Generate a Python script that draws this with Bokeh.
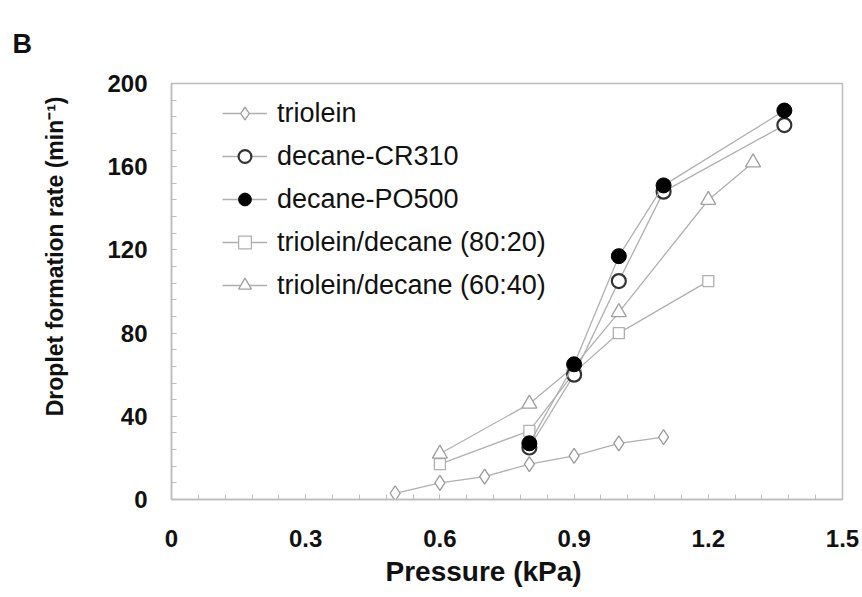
from bokeh.plotting import figure
from bokeh.models import Legend, LegendItem, Range1d, FixedTicker, Title
from bokeh.embed import file_html
from bokeh.resources import INLINE

# ---- data ----
triolein_x = [0.5, 0.6, 0.7, 0.8, 0.9, 1.0, 1.1]
triolein_y = [3, 8, 11, 17, 21, 27, 30]

cr310_x = [0.8, 0.9, 1.0, 1.1, 1.37]
cr310_y = [25, 60, 105, 148, 180]

po500_x = [0.8, 0.9, 1.0, 1.1, 1.37]
po500_y = [27, 65, 117, 151, 187]

mix8020_x = [0.6, 0.8, 0.9, 1.0, 1.2]
mix8020_y = [17, 33, 61, 80, 105]

mix6040_x = [0.6, 0.8, 0.9, 1.0, 1.2, 1.3]
mix6040_y = [22, 46, 64, 90, 144, 162]

x_ticks = [0, 0.3, 0.6, 0.9, 1.2, 1.5]
x_tick_labels = ["0", "0.3", "0.6", "0.9", "1.2", "1.5"]
y_ticks = [0, 40, 80, 120, 160, 200]

FONT = "Liberation Sans"
TXT = "#111111"

p = figure(width=862, height=597, output_backend="svg", toolbar_location=None,
           x_range=Range1d(0, 1.5), y_range=Range1d(0, 200),
           min_border_left=171, min_border_right=20, min_border_top=83, min_border_bottom=98)

p.xgrid.visible = False
p.ygrid.visible = False
p.outline_line_color = "#bdbdbd"
p.outline_line_width = 1.5
p.background_fill_color = "white"
p.border_fill_color = "white"

for ax in (p.xaxis[0], p.yaxis[0]):
    ax.axis_line_color = "#bdbdbd"
    ax.axis_line_width = 1.5
    ax.major_tick_line_color = "#bdbdbd"
    ax.minor_tick_line_color = "#bdbdbd"
    ax.major_tick_in = 5
    ax.major_tick_out = 0
    ax.minor_tick_in = 5
    ax.minor_tick_out = 0
    ax.major_label_text_font = FONT
    ax.major_label_text_font_style = "bold"
    ax.major_label_text_font_size = "24px"
    ax.major_label_text_color = TXT

p.xaxis.ticker = FixedTicker(ticks=x_ticks,
                             minor_ticks=[round(i * 0.06, 2) for i in range(1, 25)])
p.xaxis.major_label_overrides = {t: l for t, l in zip(x_ticks, x_tick_labels)}
p.yaxis.ticker = FixedTicker(ticks=y_ticks, minor_ticks=[i * 8 for i in range(1, 25)])
p.xaxis.major_label_standoff = 30
p.yaxis.major_label_standoff = 24

xtitle = Title(text="Pressure (kPa)", align="left", offset=214, vertical_align="top",
               text_font=FONT, text_font_style="bold", text_font_size="28px",
               text_color=TXT, standoff=12)
p.add_layout(xtitle, "below")

ytitle = Title(text="Droplet formation rate (min\u207b\u00b9)", align="right", offset=13,
               text_font=FONT, text_font_style="bold", text_font_size="23px",
               text_color=TXT, standoff=74)
p.add_layout(ytitle, "left")

ptitle = Title(text="B", align="left", offset=-159, text_font=FONT, text_font_style="bold",
               text_font_size="27px", text_color=TXT, standoff=50)
p.add_layout(ptitle, "above")

LINE = "#b0b0b0"

# triolein
l1 = p.line(triolein_x, triolein_y, line_color=LINE, line_width=1.3)
m1 = p.scatter(triolein_x, triolein_y, marker="diamond", size=15, fill_color="white",
               line_color="#9a9a9a", line_width=1.3)
# 80:20
l4 = p.line(mix8020_x, mix8020_y, line_color=LINE, line_width=1.3)
m4 = p.scatter(mix8020_x, mix8020_y, marker="square", size=11, fill_color="white",
               line_color="#b0b0b0", line_width=1.3)
# 60:40
l5 = p.line(mix6040_x, mix6040_y, line_color=LINE, line_width=1.3)
m5 = p.scatter(mix6040_x, mix6040_y, marker="triangle", size=15, fill_color="white",
               line_color="#a0a0a0", line_width=1.3)
# CR310
l2 = p.line(cr310_x, cr310_y, line_color=LINE, line_width=1.3)
m2 = p.scatter(cr310_x, cr310_y, marker="circle", size=14, fill_color="white",
               line_color="#333333", line_width=2.2)
# PO500
l3 = p.line(po500_x, po500_y, line_color=LINE, line_width=1.3)
m3 = p.scatter(po500_x, po500_y, marker="circle", size=15, fill_color="black",
               line_color="black", line_width=1)

legend = Legend(items=[
    LegendItem(label="triolein", renderers=[l1, m1]),
    LegendItem(label="decane-CR310", renderers=[l2, m2]),
    LegendItem(label="decane-PO500", renderers=[l3, m3]),
    LegendItem(label="triolein/decane (80:20)", renderers=[l4, m4]),
    LegendItem(label="triolein/decane (60:40)", renderers=[l5, m5]),
], location=(51, 198))
legend.border_line_color = None
legend.background_fill_alpha = 0
legend.padding = 0
legend.margin = 0
legend.spacing = 11
legend.glyph_width = 45
legend.glyph_height = 32
legend.label_height = 32
legend.label_standoff = 10
legend.label_text_font = FONT
legend.label_text_font_size = "27px"
legend.label_text_color = TXT
p.add_layout(legend, "center")

open("out.html", "w").write(file_html(p, INLINE))
